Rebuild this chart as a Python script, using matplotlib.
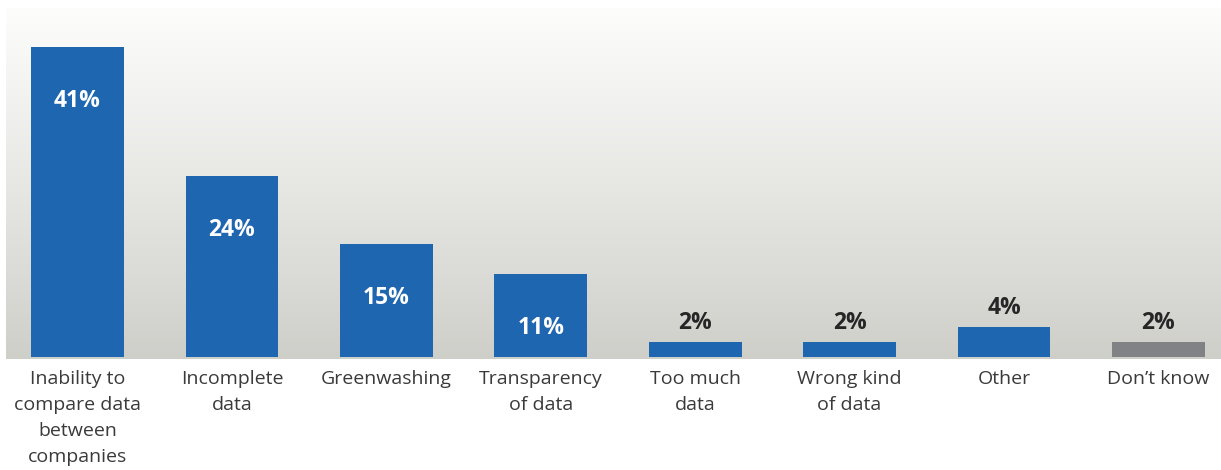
import matplotlib.pyplot as plt
import numpy as np
from matplotlib.colors import LinearSegmentedColormap

categories = ["Inability to\ncompare data\nbetween\ncompanies", "Incomplete\ndata", "Greenwashing",
              "Transparency\nof data", "Too much\ndata", "Wrong kind\nof data", "Other", "Don\u2019t know"]
values = [41, 24, 15, 11, 2, 2, 4, 2]
colors = ["#1f66b0"] * 7 + ["#818286"]

plt.rcParams['font.family'] = ['Open Sans', 'DejaVu Sans']

fig = plt.figure(figsize=(12.21, 4.70), dpi=100)
ax = fig.add_axes([6 / 1221, 111 / 470, 1215 / 1221, 351 / 470])

x = np.arange(len(values))
ax.set_xlim(-0.463, 7.405)
ax.set_ylim(-0.27, 46.2)

# background gradient, white at top to light grey at bottom
grad = LinearSegmentedColormap.from_list("bg", ["#cfcfca", "#e7e7e4", "#fdfdfc"])
ax.imshow(np.linspace(0, 1, 256).reshape(-1, 1), aspect='auto', cmap=grad, origin='lower',
          extent=(-0.463, 7.405, -0.27, 46.2), zorder=0)

ax.bar(x, values, width=0.6, color=colors, zorder=2)

for xi, v in zip(x, values):
    if v >= 10:
        ax.annotate(f"{v}%", (xi, v), xytext=(0, -39), textcoords='offset points',
                    ha='center', va='center', color='white', fontsize=16.5, fontweight='bold')
    else:
        ax.annotate(f"{v}%", (xi, v), xytext=(0, 13.5), textcoords='offset points',
                    ha='center', va='center', color='#262626', fontsize=16.5, fontweight='bold')

ax.set_xticks(x)
ax.set_xticklabels(categories, fontsize=14, color='#3a3a3a', linespacing=1.58, va='top')
ax.tick_params(axis='x', length=0, pad=8)
ax.set_yticks([])
for s in ax.spines.values():
    s.set_visible(False)

fig.savefig("out.png", dpi=100)
